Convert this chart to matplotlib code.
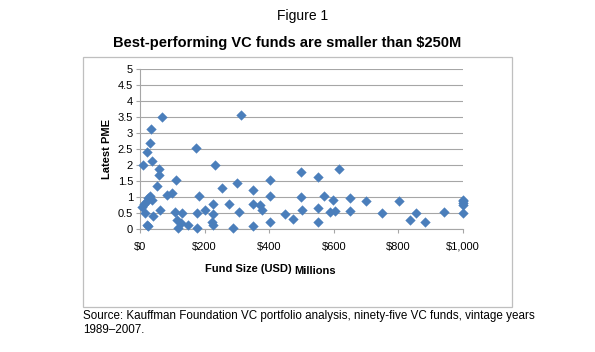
import matplotlib.pyplot as plt
from matplotlib.patches import Rectangle
from matplotlib.ticker import FuncFormatter

# Fund size (USD millions) and latest PME
fund_size = [7, 10, 13, 16, 21, 26, 24, 31, 36, 20, 23, 31, 33, 38, 41, 52, 60, 60, 62, 67,
             83, 98, 111, 109, 129, 114, 127, 119, 150, 173, 184, 175, 175, 202, 225, 225,
             222, 227, 233, 253, 277, 287, 300, 305, 312, 350, 350, 350, 373, 377, 401, 401,
             403, 450, 475, 499, 499, 501, 551, 551, 551, 569, 589, 599, 603, 617, 651, 651,
             701, 750, 801, 837, 853, 882, 940, 1000, 1000, 1000, 1000, 1000]
latest_pme = [0.71, 2.0, 0.79, 0.52, 0.13, 0.10, 0.97, 1.04, 0.92, 0.85, 2.43, 2.71, 3.12, 2.14,
              0.42, 1.35, 1.88, 1.70, 0.60, 3.51, 1.07, 1.12, 1.55, 0.55, 0.52, 0.29, 0.19, 0.03,
              0.13, 2.54, 1.04, 0.52, 0.03, 0.60, 0.79, 0.48, 0.24, 0.13, 2.0, 1.28, 0.79, 0.03,
              1.46, 0.55, 3.56, 1.22, 0.79, 0.10, 0.75, 0.60, 1.53, 1.04, 0.24, 0.48, 0.33, 1.80,
              1.00, 0.60, 1.62, 0.68, 0.24, 1.04, 0.55, 0.92, 0.57, 1.88, 0.97, 0.58, 0.87, 0.50,
              0.87, 0.29, 0.50, 0.24, 0.53, 0.93, 0.88, 0.83, 0.77, 0.50]

x_ticks = [0, 200, 400, 600, 800, 1000]
y_ticks = [0, 0.5, 1, 1.5, 2, 2.5, 3, 3.5, 4, 4.5, 5]

plt.rcParams['font.family'] = ['Liberation Sans', 'DejaVu Sans']

fig = plt.figure(figsize=(5.95, 3.52), dpi=100)

# chart frame
fig.patches.append(Rectangle((83 / 595, 1 - 307 / 352), 429 / 595, 250 / 352,
                             transform=fig.transFigure, fill=False,
                             edgecolor='#BFBFBF', linewidth=0.9))

ax = fig.add_axes([140 / 595, 1 - 229.3 / 352, 323 / 595, 160 / 352])
ax.scatter(fund_size, latest_pme, marker='D', s=24, color='#4A7EBB',
           edgecolors='#4A7EBB', linewidths=0.3, zorder=3, clip_on=False)

ax.set_xlim(0, 1000)
ax.set_ylim(0, 5)
ax.set_xticks(x_ticks)
ax.set_yticks(y_ticks)
ax.xaxis.set_major_formatter(FuncFormatter(lambda v, p: '${:,.0f}'.format(v)))
ax.yaxis.set_major_formatter(FuncFormatter(lambda v, p: '{:g}'.format(v)))
ax.grid(axis='y', color='#A6A6A6', linewidth=0.8)
ax.set_axisbelow(True)
for side in ['top', 'right']:
    ax.spines[side].set_visible(False)
for side in ['left', 'bottom']:
    ax.spines[side].set_color('#A6A6A6')
    ax.spines[side].set_linewidth(0.8)
ax.tick_params(axis='both', labelsize=8, colors='#A6A6A6', labelcolor='black', length=3, width=0.8)
ax.tick_params(axis='x', pad=6)
ax.tick_params(axis='y', pad=2)

ax.set_ylabel('Latest PME', fontsize=8, fontweight='bold', labelpad=4)

fig.text(0.49, 1 - 269 / 352, 'Fund Size (USD)', fontsize=8, fontweight='bold',
         ha='right', va='center')
fig.text(0.495, 1 - 271 / 352, 'Millions', fontsize=8, fontweight='bold',
         ha='left', va='center')

fig.text(303 / 595, 1 - 16 / 352, 'Figure 1', fontsize=10, ha='center', va='center')
fig.text(287 / 595, 1 - 43 / 352, 'Best-performing VC funds are smaller than $250M',
         fontsize=10.5, fontweight='bold', ha='center', va='center')
fig.text(83 / 595, 1 - 316 / 352,
         'Source: Kauffman Foundation VC portfolio analysis, ninety-five VC funds, vintage years',
         fontsize=8.4, ha='left', va='center')
fig.text(83 / 595, 1 - 330 / 352, '1989\u20132007.', fontsize=8.4, ha='left', va='center')

fig.savefig('out.png', dpi=100)
